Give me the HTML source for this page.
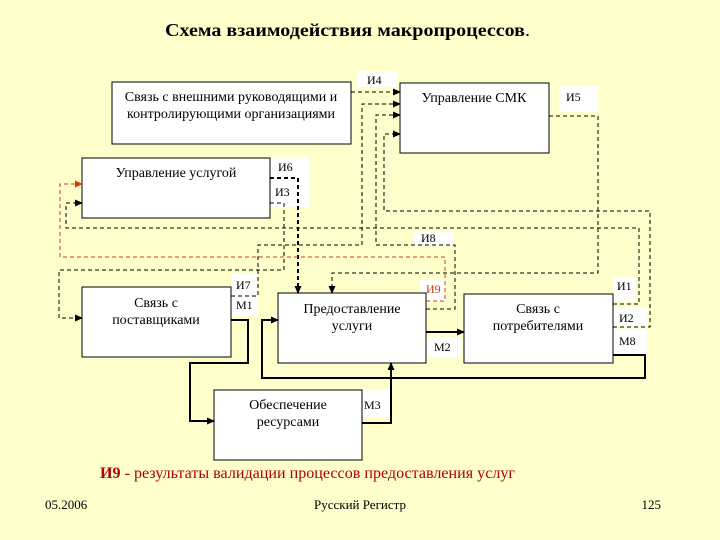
<!DOCTYPE html>
<html><head><meta charset="utf-8"><style>
body{margin:0;background:#ffffcc;}
svg{display:block;font-family:"Liberation Serif","DejaVu Serif",serif;}
</style></head><body>
<svg width="720" height="540" viewBox="0 0 720 540" xmlns="http://www.w3.org/2000/svg">
<defs>
<marker id="a" markerWidth="8" markerHeight="8" refX="7" refY="4" orient="auto" markerUnits="userSpaceOnUse"><path d="M0,0.5 L8,4 L0,7.5z" fill="#000"/></marker>
<marker id="o" markerWidth="8" markerHeight="8" refX="7" refY="4" orient="auto" markerUnits="userSpaceOnUse"><path d="M0,0.5 L8,4 L0,7.5z" fill="#d04010"/></marker>
</defs>
<rect width="720" height="540" fill="#ffffcc"/>
<text x="165" y="36" font-size="18" font-weight="bold" textLength="365" lengthAdjust="spacingAndGlyphs">Схема взаимодействия  макропроцессов<tspan font-weight="normal">.</tspan></text>

<!-- label backgrounds -->
<g fill="#fff">
<rect x="357" y="71" width="41" height="16"/>
<rect x="559" y="86" width="39" height="26"/>
<rect x="270" y="157" width="39" height="25"/>
<rect x="270" y="182" width="39" height="25"/>
<rect x="414" y="232" width="39" height="13"/>
<rect x="231" y="273" width="27" height="23"/>
<rect x="231" y="296" width="27" height="20"/>
<rect x="420" y="280" width="25" height="21"/>
<rect x="613" y="277" width="22" height="25"/>
<rect x="613" y="307" width="34" height="20"/>
<rect x="613" y="330" width="34" height="23"/>
<rect x="426" y="337" width="35" height="20"/>
<rect x="362" y="390" width="29" height="27"/>
</g>

<!-- boxes -->
<g fill="#fff" stroke="#000" stroke-width="1">
<rect x="112" y="82" width="239" height="62"/>
<rect x="400" y="83" width="149" height="70"/>
<rect x="82" y="158" width="188" height="60"/>
<rect x="82" y="287" width="149" height="70"/>
<rect x="278" y="293" width="148" height="70"/>
<rect x="464" y="294" width="149" height="69"/>
<rect x="214" y="390" width="148" height="70"/>
</g>

<g font-size="14" text-anchor="middle">
<text x="231" y="101">Связь с внешними руководящими и</text>
<text x="231" y="118">контролирующими организациями</text>
<text x="474" y="102">Управление СМК</text>
<text x="176" y="177">Управление услугой</text>
<text x="156" y="307">Связь с</text>
<text x="156" y="324">поставщиками</text>
<text x="352" y="313">Предоставление</text>
<text x="352" y="330">услуги</text>
<text x="538" y="313">Связь с</text>
<text x="538" y="330">потребителями</text>
<text x="288" y="409">Обеспечение</text>
<text x="288" y="426">ресурсами</text>
</g>

<!-- dashed connectors -->
<g fill="none" stroke="#000" stroke-width="1" stroke-dasharray="4,3">
<path d="M351,92 H400" marker-end="url(#a)"/>
<path d="M231,296 H258 V245 H362 V104 H400" marker-end="url(#a)"/>
<path d="M426,309 H455 V245 H376 V115 H400" marker-end="url(#a)"/>
<path d="M613,327 H650 V211 H384 V134 H400" marker-end="url(#a)"/>
<path d="M549,116 H598 V273 H332 V293" marker-end="url(#a)"/>
<path d="M270,203 H284 V270 H59 V318 H82" marker-end="url(#a)"/>
<path d="M613,304 H639 V228 H66 V203 H82" marker-end="url(#a)"/>
<path d="M270,178 H298 V293" stroke-width="2" marker-end="url(#a)"/>
<path d="M426,301 H445 V257 H60 V184 H82" stroke="#d04010" marker-end="url(#o)"/>
</g>

<!-- solid connectors -->
<g fill="none" stroke="#000" stroke-width="2">
<path d="M231,320 H248 V363 H190 V421 H214" marker-end="url(#a)"/>
<path d="M362,423 H391 V363" marker-end="url(#a)"/>
<path d="M426,332 H464" marker-end="url(#a)"/>
<path d="M613,355 H645 V378 H262 V320 H278" marker-end="url(#a)"/>
</g>

<g font-size="12">
<text x="367" y="84">И4</text>
<text x="566" y="101">И5</text>
<text x="278" y="171">И6</text>
<text x="275" y="196">И3</text>
<text x="421" y="242">И8</text>
<text x="236" y="289">И7</text>
<text x="236" y="309">М1</text>
<text x="426" y="293" fill="#c04020">И9</text>
<text x="617" y="290">И1</text>
<text x="619" y="322">И2</text>
<text x="619" y="345">М8</text>
<text x="434" y="351">М2</text>
<text x="364" y="409">М3</text>
</g>

<text x="100" y="478" font-size="16" fill="#b00000" textLength="415" lengthAdjust="spacingAndGlyphs"><tspan font-weight="bold">И9</tspan> - результаты валидации процессов предоставления услуг</text>
<g font-size="13">
<text x="45" y="509">05.2006</text>
<text x="360" y="509" text-anchor="middle">Русский Регистр</text>
<text x="661" y="509" text-anchor="end">125</text>
</g>
</svg>
</body></html>
